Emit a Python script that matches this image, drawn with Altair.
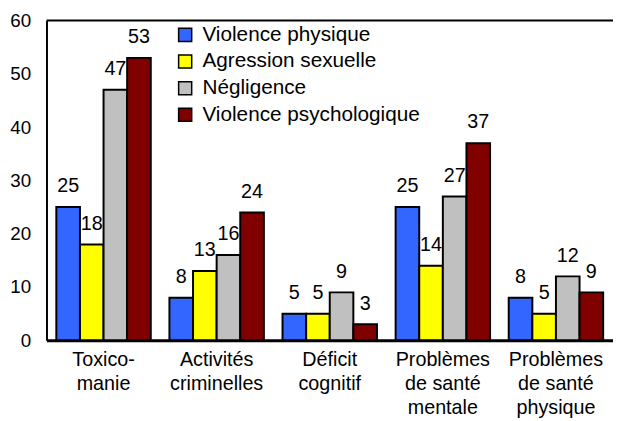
import altair as alt
import pandas as pd

categories = ["Toxico-|manie", "Activités|criminelles", "Déficit|cognitif",
              "Problèmes|de santé|mentale", "Problèmes|de santé|physique"]
series = ["Violence physique", "Agression sexuelle", "Négligence", "Violence psychologique"]
violence_physique = [25, 8, 5, 25, 8]
agression_sexuelle = [18, 13, 5, 14, 5]
negligence = [47, 16, 9, 27, 12]
violence_psychologique = [53, 24, 3, 37, 9]
colors = ["#3366FF", "#FFFF00", "#C0C0C0", "#800000"]
y_ticks = [0, 10, 20, 30, 40, 50, 60]

rows = []
for s, vals in zip(series, [violence_physique, agression_sexuelle, negligence, violence_psychologique]):
    for c, v in zip(categories, vals):
        rows.append({"cat": c, "series": s, "value": v})
df = pd.DataFrame(rows)

FONT = "Liberation Sans"
W, H = 574, 324

base = alt.Chart(df).encode(
    x=alt.X("cat:N", sort=categories,
            scale=alt.Scale(paddingInner=0.165, paddingOuter=0.087),
            axis=alt.Axis(title=None, labelExpr="split(datum.label, '|')", labelAngle=0,
                          labelFontSize=20, labelLineHeight=24.5, ticks=False,
                          domainWidth=3, domainColor="black", labelPadding=9,
                          labelColor="black", labelBaseline="top", labelFont=FONT,
                          labelLimit=300)),
    xOffset=alt.XOffset("series:N", sort=series,
                        scale=alt.Scale(paddingInner=0, paddingOuter=0)),
    y=alt.Y("value:Q", scale=alt.Scale(domain=[0, 60], nice=False),
            axis=alt.Axis(title=None, values=y_ticks, ticks=False, grid=False,
                          domainWidth=2, domainColor="black", labelFontSize=19,
                          labelPadding=16, labelColor="black", labelFont=FONT)),
)

bars = base.mark_bar(stroke="black", strokeWidth=2).encode(
    color=alt.Color("series:N", sort=series,
                    scale=alt.Scale(domain=series, range=colors),
                    legend=alt.Legend(title=None, orient="none", legendX=130, legendY=4,
                                      symbolType="square", symbolSize=175,
                                      symbolStrokeColor="black", symbolStrokeWidth=1.5,
                                      labelFontSize=21, labelFont=FONT, labelOffset=7,
                                      labelLimit=400, rowPadding=5, padding=0,
                                      labelColor="black", symbolOpacity=1))
)

labels = base.mark_text(dy=-15, baseline="alphabetic", align="center",
                        fontSize=20, font=FONT, color="black").encode(
    text=alt.Text("value:Q")
)

top_rule = alt.Chart(alt.Data(values=[{}])).mark_rule(color="black", strokeWidth=2).encode(
    x=alt.value(0), x2=alt.value(W), y=alt.value(0)
)

chart = alt.layer(bars, labels, top_rule).properties(
    width=W, height=H,
    autosize=alt.AutoSizeParams(type="none"),
    padding={"left": 39, "top": 10, "right": 0, "bottom": 79},
).configure_view(strokeWidth=0)

chart.save("out.html", embed_options={"renderer": "svg", "actions": False})
